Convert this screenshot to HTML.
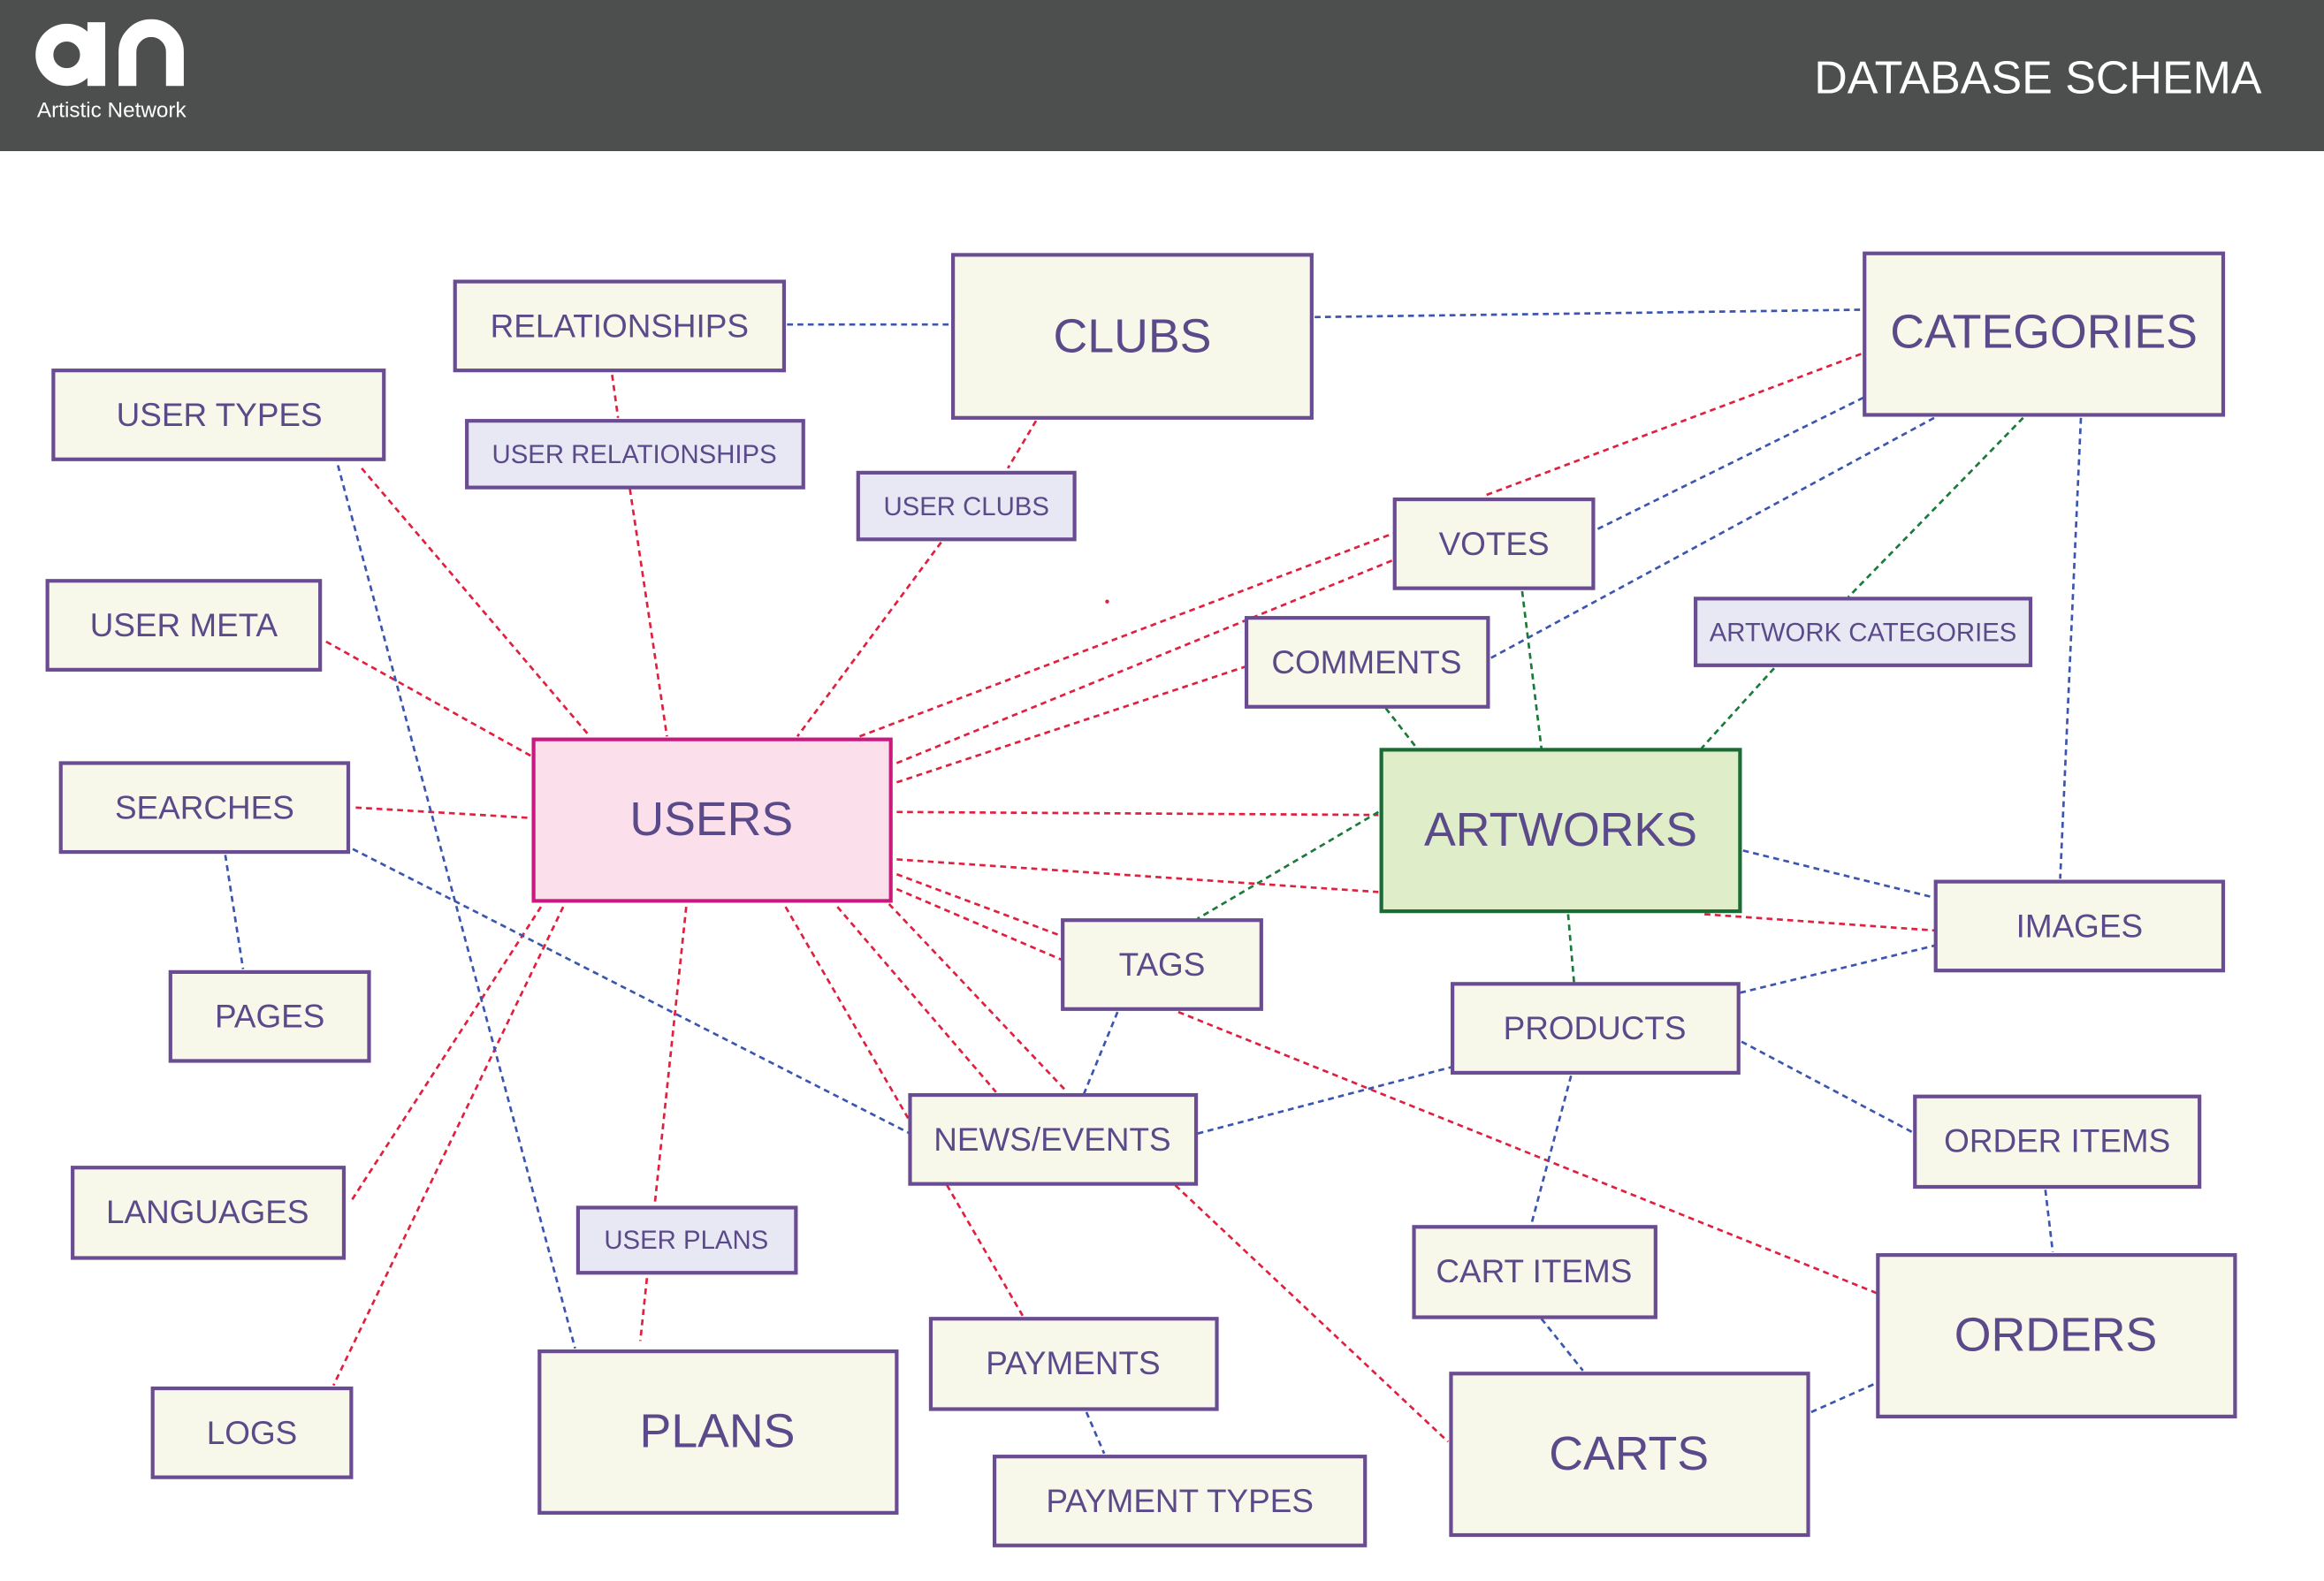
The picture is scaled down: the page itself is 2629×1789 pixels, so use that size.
<!DOCTYPE html>
<html><head><meta charset="utf-8"><style>
html,body{margin:0;padding:0;background:#fff;}
svg{display:block;}
text{font-family:"Liberation Sans",sans-serif;}
</style></head><body>
<svg width="2629" height="1789" viewBox="0 0 1568 1067" xmlns="http://www.w3.org/2000/svg">
<rect x="0" y="0" width="1568" height="1067" fill="#fff"/>
<rect x="0" y="0" width="1568" height="102" fill="#4d4e4e"/>
<circle cx="45" cy="37" r="15" fill="none" stroke="#fff" stroke-width="12"/>
<rect x="59" y="15" width="12" height="43" fill="#fff"/>
<path d="M86 58 V35 A16 16 0 0 1 118 35 V58" fill="none" stroke="#fff" stroke-width="12"/>
<text x="25" y="79" fill="#fff" font-size="14.5">Artistic Network</text>
<text x="1526" y="63" fill="#fff" font-size="31" text-anchor="end">DATABASE SCHEMA</text>

<g fill="none" stroke-width="1.6" stroke-dasharray="4,3">
<g stroke="#e0203f">
<line x1="244" y1="316" x2="398" y2="497"/>
<line x1="220" y1="433" x2="358" y2="510"/>
<line x1="240" y1="545" x2="358" y2="552"/>
<line x1="413" y1="253" x2="417" y2="282"/>
<line x1="425" y1="330" x2="450" y2="497"/>
<line x1="699" y1="284" x2="680" y2="316"/>
<line x1="635" y1="366" x2="538" y2="497"/>
<line x1="1003" y1="334" x2="1258" y2="238"/>
<line x1="580" y1="497" x2="940" y2="360"/>
<line x1="605" y1="515" x2="940" y2="378"/>
<line x1="605" y1="528" x2="840" y2="450"/>
<line x1="605" y1="548" x2="930" y2="550"/>
<line x1="605" y1="580" x2="930" y2="602"/>
<line x1="605" y1="590" x2="717" y2="632"/>
<line x1="605" y1="600" x2="717" y2="648"/>
<line x1="1150" y1="617" x2="1306" y2="628"/>
<line x1="795" y1="683" x2="1267" y2="873"/>
<line x1="565" y1="612" x2="672" y2="737"/>
<line x1="595" y1="605" x2="720" y2="737"/>
<line x1="530" y1="612" x2="690" y2="888"/>
<line x1="463" y1="612" x2="432" y2="905"/>
<line x1="365" y1="612" x2="236" y2="812"/>
<line x1="380" y1="612" x2="225" y2="935"/>
<line x1="793" y1="800" x2="977" y2="973"/>
</g>
<g stroke="#3b55b0">
<line x1="531" y1="219" x2="643" y2="219"/>
<line x1="887" y1="214" x2="1258" y2="209"/>
<line x1="1078" y1="357" x2="1258" y2="268"/>
<line x1="1006" y1="444" x2="1305" y2="282"/>
<line x1="1404" y1="282" x2="1390" y2="593"/>
<line x1="228" y1="314" x2="388" y2="910"/>
<line x1="152" y1="577" x2="164" y2="654"/>
<line x1="238" y1="573" x2="614" y2="765"/>
<line x1="754" y1="683" x2="731" y2="739"/>
<line x1="808" y1="765" x2="980" y2="720"/>
<line x1="1176" y1="574" x2="1306" y2="606"/>
<line x1="1174" y1="670" x2="1306" y2="638"/>
<line x1="1175" y1="703" x2="1292" y2="765"/>
<line x1="1380" y1="803" x2="1385" y2="845"/>
<line x1="1060" y1="726" x2="1033" y2="827"/>
<line x1="1040" y1="890" x2="1068" y2="925"/>
<line x1="1222" y1="953" x2="1267" y2="933"/>
<line x1="733" y1="953" x2="745" y2="981"/>
</g>
<g stroke="#1a7a3a">
<line x1="1027" y1="399" x2="1040" y2="505"/>
<line x1="1365" y1="282" x2="1247" y2="403"/>
<line x1="1197" y1="451" x2="1148" y2="505"/>
<line x1="935" y1="478" x2="956" y2="505"/>
<line x1="930" y1="548" x2="808" y2="620"/>
<line x1="1058" y1="617" x2="1062" y2="663"/>
</g>
</g>
<circle cx="747" cy="406" r="1.3" fill="#e0203f"/>

<g stroke="#6a4c93" stroke-width="2.5" fill="#f7f7ea">
<rect x="307" y="190" width="222" height="60"/>
<rect x="643" y="172" width="242" height="110"/>
<rect x="1258" y="171" width="242" height="109"/>
<rect x="36" y="250" width="223" height="60"/>
<rect x="315" y="284" width="227" height="45" fill="#e8e8f4"/>
<rect x="579" y="319" width="146" height="45" fill="#e8e8f4"/>
<rect x="941" y="337" width="134" height="60"/>
<rect x="32" y="392" width="184" height="60"/>
<rect x="1144" y="404" width="226" height="45" fill="#e8e8f4"/>
<rect x="841" y="417" width="163" height="60"/>
<rect x="41" y="515" width="194" height="60"/>
<rect x="360" y="499" width="241" height="109" fill="#fbe0ec" stroke="#c8197f"/>
<rect x="932" y="506" width="242" height="109" fill="#dfedc8" stroke="#1a6b35"/>
<rect x="1306" y="595" width="194" height="60"/>
<rect x="717" y="621" width="134" height="60"/>
<rect x="115" y="656" width="134" height="60"/>
<rect x="980" y="664" width="193" height="60"/>
<rect x="614" y="739" width="193" height="60"/>
<rect x="1292" y="740" width="192" height="61"/>
<rect x="49" y="788" width="183" height="61"/>
<rect x="390" y="815" width="147" height="44" fill="#e8e8f4"/>
<rect x="954" y="828" width="163" height="61"/>
<rect x="1267" y="847" width="241" height="109"/>
<rect x="628" y="890" width="193" height="61"/>
<rect x="103" y="937" width="134" height="60"/>
<rect x="364" y="912" width="241" height="109"/>
<rect x="979" y="927" width="241" height="109"/>
<rect x="671" y="983" width="250" height="60"/>
</g>

<g fill="#5b4a8a" text-anchor="middle" dominant-baseline="central">
<g font-size="22">
<text x="418" y="220">RELATIONSHIPS</text>
<text x="148" y="280">USER TYPES</text>
<text x="1008" y="367">VOTES</text>
<text x="124" y="422">USER META</text>
<text x="922" y="447">COMMENTS</text>
<text x="138" y="545">SEARCHES</text>
<text x="1403" y="625">IMAGES</text>
<text x="784" y="651">TAGS</text>
<text x="182" y="686">PAGES</text>
<text x="1076" y="694">PRODUCTS</text>
<text x="710" y="769">NEWS/EVENTS</text>
<text x="1388" y="770">ORDER ITEMS</text>
<text x="140" y="818">LANGUAGES</text>
<text x="1035" y="858">CART ITEMS</text>
<text x="724" y="920">PAYMENTS</text>
<text x="170" y="967">LOGS</text>
<text x="796" y="1013">PAYMENT TYPES</text>
</g>
<g font-size="17.5">
<text x="428" y="307">USER RELATIONSHIPS</text>
<text x="652" y="342">USER CLUBS</text>
<text x="1257" y="427">ARTWORK CATEGORIES</text>
<text x="463" y="837">USER PLANS</text>
</g>
<g font-size="32">
<text x="764" y="227">CLUBS</text>
<text x="1379" y="224">CATEGORIES</text>
<text x="480" y="553">USERS</text>
<text x="1053" y="560">ARTWORKS</text>
<text x="1387" y="901">ORDERS</text>
<text x="484" y="966">PLANS</text>
<text x="1099" y="981">CARTS</text>
</g>
</g>
</svg>
</body></html>
